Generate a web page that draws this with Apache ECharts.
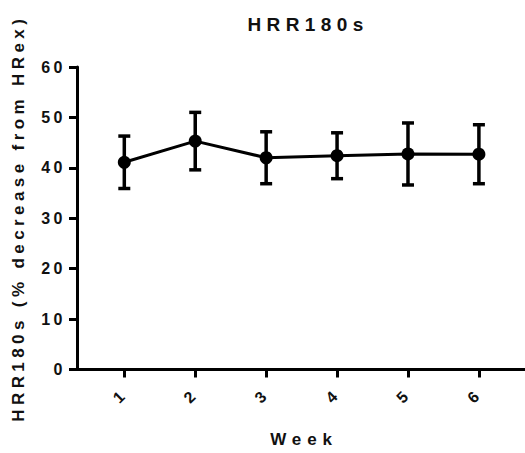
<!DOCTYPE html>
<html><head><meta charset="utf-8">
<script src="https://cdn.jsdelivr.net/npm/echarts@6/dist/echarts.min.js"></script>
<style>html,body{margin:0;padding:0;background:#fff}#c{width:525px;height:453px}</style>
</head><body><div id="c"></div>
<script>
var weeks = [1, 2, 3, 4, 5, 6];
var meanValues = [41.1, 45.3, 42.0, 42.4, 42.75, 42.7];
var sdValues = [5.2, 5.7, 5.15, 4.55, 6.15, 5.85];
var yTicks = [0, 10, 20, 30, 40, 50, 60];
var titleText = 'HRR180s';
var yAxisName = 'HRR180s (% decrease from HRex)';
var xAxisName = 'Week';

var lineData = weeks.map(function (w, i) { return [w, meanValues[i]]; });
var errData = weeks.map(function (w, i) { return [w, meanValues[i] - sdValues[i], meanValues[i] + sdValues[i]]; });
var font = 'Liberation Sans';
var txt = '#111';

var chart = echarts.init(document.getElementById('c'), null, { renderer: 'svg' });

function applySpacing() {
  var texts = document.querySelectorAll('#c svg text');
  texts.forEach(function (t) {
    var s = t.textContent;
    var ls = 0;
    if (s === titleText) ls = 5.4;
    else if (s === yAxisName) ls = 4.4;
    else if (s === xAxisName) ls = 5.9;
    else if (/^\d+$/.test(s)) ls = 3.5;
    if (ls) { t.style.letterSpacing = ls + 'px'; }
  });
}
chart.on('finished', applySpacing);

chart.setOption({
  animation: false,
  title: { text: titleText, left: 303, top: 10, textAlign: 'center',
    textStyle: { fontFamily: font, fontWeight: 'bold', fontSize: 19, color: txt } },
  grid: { left: 77, right: 0, top: 67, bottom: 83.5 },
  xAxis: {
    type: 'value', min: 0.333, max: 6.65,
    name: xAxisName, nameLocation: 'middle', nameGap: 61,
    nameTextStyle: { fontFamily: font, fontWeight: 'bold', fontSize: 17, color: txt, padding: [0, 0, 0, 6] },
    splitLine: { show: false },
    axisLine: { lineStyle: { color: '#000', width: 3 } },
    axisTick: { customValues: weeks, length: 8, lineStyle: { color: '#000', width: 3 } },
    axisLabel: { customValues: weeks, rotate: 45, margin: 22, fontFamily: font, fontWeight: 'bold', fontSize: 16, color: txt }
  },
  yAxis: {
    type: 'value', min: 0, max: 60, interval: 10,
    name: yAxisName, nameLocation: 'middle', nameGap: 50,
    nameTextStyle: { fontFamily: font, fontWeight: 'bold', fontSize: 17, color: txt },
    splitLine: { show: false },
    axisLine: { show: true, lineStyle: { color: '#000', width: 3 } },
    axisTick: { show: true, length: 8, lineStyle: { color: '#000', width: 3 } },
    axisLabel: { margin: 11, fontFamily: font, fontWeight: 'bold', fontSize: 16, color: txt }
  },
  series: [
    {
      type: 'custom',
      data: errData,
      z: 3,
      renderItem: function (params, api) {
        var x = api.value(0);
        var lo = api.coord([x, api.value(1)]);
        var hi = api.coord([x, api.value(2)]);
        var hw = 6;
        var st = { stroke: '#000', lineWidth: 3.5 };
        return { type: 'group', children: [
          { type: 'line', shape: { x1: lo[0], y1: lo[1], x2: hi[0], y2: hi[1] }, style: st },
          { type: 'line', shape: { x1: lo[0] - hw, y1: lo[1], x2: lo[0] + hw, y2: lo[1] }, style: st },
          { type: 'line', shape: { x1: hi[0] - hw, y1: hi[1], x2: hi[0] + hw, y2: hi[1] }, style: st }
        ] };
      }
    },
    {
      type: 'line',
      data: lineData,
      z: 4,
      symbol: 'circle', symbolSize: 13,
      lineStyle: { color: '#000', width: 3 },
      itemStyle: { color: '#000' }
    }
  ]
});
applySpacing();
</script></body></html>
